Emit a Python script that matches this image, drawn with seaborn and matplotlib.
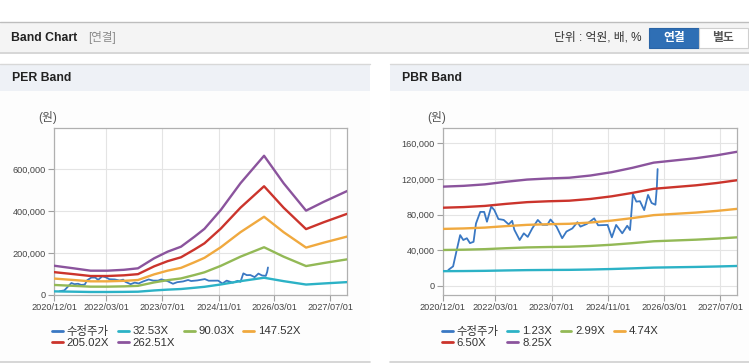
import numpy as np
import pandas as pd
import seaborn as sns
import matplotlib.pyplot as plt
import matplotlib.dates as mdates
from matplotlib.patches import Rectangle
from matplotlib.lines import Line2D
from matplotlib.ticker import FuncFormatter

# 수정주가 (원) - same series in both charts
price_dates = ['2021-01-19', '2021-03-01', '2021-04-01', '2021-05-01', '2021-05-28', '2021-06-28',
               '2021-07-25', '2021-08-25', '2021-09-15', '2021-10-22', '2021-11-25', '2021-12-19',
               '2022-01-25', '2022-02-21', '2022-03-28', '2022-05-13', '2022-06-25', '2022-07-25',
               '2022-08-13', '2022-09-28', '2022-11-03', '2022-12-07', '2023-01-15', '2023-03-04',
               '2023-04-13', '2023-05-25', '2023-06-22', '2023-08-13', '2023-10-01', '2023-11-07',
               '2023-12-28', '2024-02-10', '2024-03-07', '2024-05-01', '2024-07-04', '2024-08-07',
               '2024-10-28', '2024-12-04', '2025-01-10', '2025-03-04', '2025-04-16', '2025-05-10',
               '2025-06-04', '2025-07-04', '2025-08-04', '2025-09-10', '2025-10-13', '2025-11-13',
               '2025-12-16', '2025-12-28', '2026-01-04']
price_vals = [18000, 22000, 40000, 57000, 51500, 53500,
              48000, 49500, 70000, 83000, 83000, 72000,
              89000, 85000, 75000, 74000, 69000, 73000,
              63000, 51500, 59000, 55000, 64500, 74000,
              68500, 68500, 74500, 66500, 53500, 61000,
              64500, 71500, 66500, 69500, 75800, 68000,
              68400, 54500, 68400, 59000, 67500, 62700,
              103000, 94500, 95000, 85000, 102000, 93000,
              91000, 110000, 131000]

# PER band: EPS (원) x multiple
eps_dates = ['2020-12-01', '2021-05-20', '2021-10-15', '2022-03-10', '2022-08-01', '2022-12-01',
             '2023-04-20', '2023-08-15', '2023-12-10', '2024-04-05', '2024-07-01', '2024-11-20',
             '2025-05-10', '2025-12-01', '2026-05-20', '2026-12-01', '2027-05-05', '2027-12-01']
eps_vals = [531, 484, 441, 441, 457, 484,
            665, 785, 876, 1057, 1200, 1542,
            2027, 2525, 2027, 1530, 1691, 1893]
per_mults = [32.53, 90.03, 147.52, 205.02, 262.51]

# PBR band: BPS (원) x multiple
bps_dates = ['2020-12-01', '2021-06-01', '2021-12-01', '2022-06-01', '2022-12-01', '2023-06-01',
             '2023-12-01', '2024-06-01', '2024-12-01', '2025-06-01', '2025-12-01', '2026-06-01',
             '2026-12-01', '2027-06-01', '2027-12-01']
bps_vals = [13490, 13600, 13800, 14150, 14450, 14600,
            14700, 15000, 15450, 16050, 16750, 17050,
            17350, 17750, 18250]
pbr_mults = [1.23, 2.99, 4.74, 6.50, 8.25]

x_ticks = ['2020-12-01', '2022-03-01', '2023-07-01', '2024-11-01', '2026-03-01', '2027-07-01']
per_yticks = [0, 200000, 400000, 600000]
pbr_yticks = [0, 40000, 80000, 120000, 160000]

colors = ['#3a78c3', '#2cb2c6', '#93b956', '#f0a93f', '#cb342c', '#8b549d']

sns.set_style('white')
plt.rcParams['font.family'] = ['Liberation Sans', 'Noto Sans CJK KR']

W, H = 749, 364
fig = plt.figure(figsize=(W / 100, H / 100), dpi=100)


def fx(x):
    return x / W


def fy(y):
    return 1 - y / H


def box(x0, y0, x1, y1, **kw):
    fig.patches.append(Rectangle((fx(x0), fy(y1)), (x1 - x0) / W, (y1 - y0) / H,
                                 transform=fig.transFigure, zorder=-10, **kw))


def hline(x0, x1, y, **kw):
    fig.add_artist(Line2D([fx(x0), fx(x1)], [fy(y), fy(y)], zorder=-5, **kw))


# top header strip
box(0, 22, 749, 52, facecolor='#f4f4f4', edgecolor='none')
hline(0, 749, 22, color='#bdbdbd', lw=1)
hline(0, 749, 52.5, color='#d0d0d0', lw=1.2)
fig.text(fx(11), fy(38), 'Band Chart', fontsize=8.8, fontweight='bold', color='#222', va='center')
fig.text(fx(88), fy(38), '[연결]', fontsize=8.3, color='#8a8a8a', va='center')
fig.text(fx(642), fy(38), '단위 : 억원, 배, %', fontsize=8.5, color='#333', va='center', ha='right')
box(649, 28, 699, 48, facecolor='#2f6fb5', edgecolor='#2a64a6', lw=0.8)
box(699, 28, 748, 48, facecolor='white', edgecolor='#cfcfcf', lw=0.8)
fig.text(fx(674), fy(38), '연결', fontsize=8.5, fontweight='bold', color='white', va='center', ha='center')
fig.text(fx(723), fy(38), '별도', fontsize=8.5, fontweight='bold', color='#555', va='center', ha='center')

# panel headers
for x0, x1, title in [(0, 370, 'PER Band'), (390, 749, 'PBR Band')]:
    box(x0, 91, x1, 361, facecolor='#fdfdfd', edgecolor='none')
    box(x0, 64, x1, 91, facecolor='#eef1f6', edgecolor='none')
    hline(x0, x1, 63.5, color='#d8d8d8', lw=1)
    hline(x0, x1, 361.5, color='#cfcfcf', lw=1.2)
    fig.text(fx(x0 + 12), fy(78), title, fontsize=8.8, fontweight='bold', color='#222', va='center')

ticks = pd.to_datetime(x_ticks)
xmin, xmax = pd.Timestamp('2020-12-01'), pd.Timestamp('2027-11-22')
fmt = FuncFormatter(lambda v, p: f'{v:,.0f}')


def draw(ax, base_dates, base_vals, mults, yticks, ylim, leg_x):
    ax.set_facecolor('white')
    sns.lineplot(x=pd.to_datetime(price_dates), y=price_vals, color=colors[0], lw=1.3,
                 label='수정주가', ax=ax, zorder=2)
    base = np.array(base_vals, dtype=float)
    for m, c in zip(mults, colors[1:]):
        sns.lineplot(x=pd.to_datetime(base_dates), y=base * m, color=c, lw=1.7,
                     label=f'{m:.2f}X', ax=ax, zorder=3)
    ax.set_xlim(xmin, xmax)
    ax.set_ylim(*ylim)
    ax.set_xticks(ticks)
    ax.xaxis.set_major_formatter(mdates.DateFormatter('%Y/%m/%d'))
    ax.set_yticks(yticks)
    ax.yaxis.set_major_formatter(fmt)
    ax.grid(True, color='#e4e4e4', lw=0.8)
    ax.set_axisbelow(True)
    for s in ax.spines.values():
        s.set_color('#b0b0b0')
        s.set_linewidth(0.9)
    ax.tick_params(axis='both', length=4, width=0.8, color='#a0a0a0', labelsize=6.6,
                   labelcolor='#444', pad=2, bottom=True, left=True)
    ax.set_xlabel('')
    ax.set_ylabel('')
    h, l = ax.get_legend_handles_labels()
    # legend reads row by row: reorder for matplotlib's column filling
    order = [0, 4, 1, 5, 2, 3]
    leg = ax.legend([h[i] for i in order], [l[i] for i in order], loc='upper left',
                    bbox_to_anchor=(fx(leg_x), fy(325.5)),
                    bbox_transform=fig.transFigure, ncol=4, frameon=False, fontsize=8.2,
                    handlelength=0.95, handletextpad=0.35, columnspacing=0.75,
                    borderpad=0, borderaxespad=0, labelspacing=0.15)
    for t in leg.get_texts():
        t.set_color('#333')
    for ln in leg.get_lines():
        ln.set_linewidth(2)


ax1 = fig.add_axes([fx(54), fy(295), (347 - 54) / W, (295 - 128) / H])
draw(ax1, eps_dates, eps_vals, per_mults, per_yticks, (0, 795000), 52)
fig.text(fx(38), fy(118), '(원)', fontsize=8.5, color='#555', va='center')

ax2 = fig.add_axes([fx(442.7), fy(295), (737 - 442.7) / W, (295 - 128) / H])
draw(ax2, bps_dates, bps_vals, pbr_mults, pbr_yticks, (-10100, 177000), 442)
fig.text(fx(427), fy(118), '(원)', fontsize=8.5, color='#555', va='center')

fig.savefig('out.png', dpi=100, facecolor='white')
